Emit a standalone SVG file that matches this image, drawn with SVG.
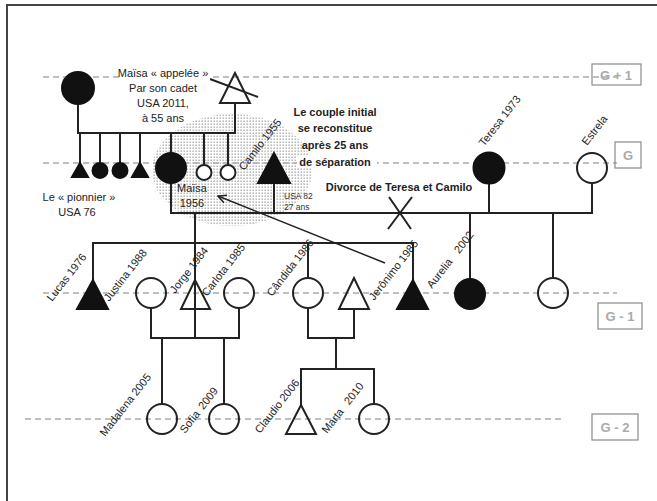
<svg xmlns="http://www.w3.org/2000/svg" width="657" height="501" viewBox="0 0 657 501">
  <style>
    .ln { stroke: #222; stroke-width: 2; fill: none; }
    .blk { fill: #111; stroke: #111; stroke-width: 2; }
    .opn { fill: none; stroke: #222; stroke-width: 2; }
    .opw { fill: #fff; stroke: #222; stroke-width: 2; }
    .gen { stroke: #aaa; stroke-width: 1.5; stroke-dasharray: 6 4; fill: none; }
    .gbox { fill: none; stroke: #8a8a8a; stroke-width: 1.2; }
    .gtxt { font-family: "Liberation Sans", Arial, sans-serif; font-size: 13px; font-weight: bold; fill: #aaa; text-anchor: middle; }
    .txt { font-family: "Liberation Sans", Arial, sans-serif; font-size: 11px; fill: #222; }
    .mid { text-anchor: middle; }
    .bold { font-weight: bold; }
    .small { font-size: 8.5px; fill: #333; }
  </style>
  <defs>
    <pattern id="dots" width="3" height="3" patternUnits="userSpaceOnUse">
      <rect x="0.5" y="0.5" width="1.4" height="1.4" fill="#a8a8a8"/>
    </pattern>
    <marker id="openArrow" viewBox="0 0 10 10" refX="9" refY="5" markerWidth="10" markerHeight="10" markerUnits="userSpaceOnUse" orient="auto">
      <path d="M1,1 L9,5 L1,9" fill="none" stroke="#222" stroke-width="1.5"/>
    </marker>
  </defs>

  <rect width="657" height="501" fill="#fff"/>
  <!-- frame -->
  <path d="M7,501 V5 H657" fill="none" stroke="#444" stroke-width="2"/>

  <!-- shaded zone around the reunited couple -->
  <ellipse cx="232" cy="170" rx="80" ry="56" fill="url(#dots)"/>

  <!-- generation guides -->
  <g id="generations">
    <line class="gen" x1="43" y1="77" x2="617" y2="77"/>
    <line class="gen" x1="43" y1="163" x2="617" y2="163"/>
    <line class="gen" x1="43" y1="293" x2="617" y2="293"/>
    <line class="gen" x1="25" y1="419" x2="565" y2="419"/>
    <rect class="gbox" x="592" y="64" width="49" height="21"/>
    <text class="gtxt" x="616" y="80">G + 1</text>
    <rect class="gbox" x="615" y="142" width="26" height="26"/>
    <text class="gtxt" x="628" y="160">G</text>
    <rect class="gbox" x="598" y="303" width="44" height="26"/>
    <text class="gtxt" x="620" y="321">G - 1</text>
    <rect class="gbox" x="592" y="414" width="46" height="26"/>
    <text class="gtxt" x="615" y="432">G - 2</text>
  </g>

  <!-- kinship lines -->
  <g id="connectors">
    <path class="ln" d="M78,104 V133 H235 V103"/>
    <path class="ln" d="M80,133 V163 M100,133 V163 M120,133 V163 M140,133 V163 M171,133 V153 M204,133 V165 M228,133 V165"/>
    <path class="ln" d="M171,183 V213 H592 V183"/>
    <path class="ln" d="M274,183 V213 M489,184 V213"/>
    <path class="ln" d="M195,213 V338"/>
    <path class="ln" d="M93,280 V243 H413 V280"/>
    <path class="ln" d="M308,243 V278 M470,213 V279 M553,213 V278"/>
    <path class="ln" d="M151,308 V338 H239 V308"/>
    <path class="ln" d="M162,338 V404 M224,338 V404"/>
    <path class="ln" d="M308,308 V338 H354 V309"/>
    <path class="ln" d="M336,338 V369 M301,405 V369 H374 V404"/>
    <!-- divorce mark -->
    <path class="ln" d="M389,197 L411,229 M412,197 L388,229"/>
    <!-- deceased mark -->
    <path class="ln" d="M210,79 L258,97"/>
    <!-- arrow pointing back to Maïsa -->
    <line x1="385" y1="263" x2="218" y2="196" stroke="#222" stroke-width="1.5" marker-end="url(#openArrow)"/>
  </g>

  <!-- generation G+1 -->
  <g id="grandmother"><circle class="blk" cx="78" cy="88" r="16"/></g>
  <g id="grandfather"><polygon class="opn" points="235,73 220,103 250,103"/></g>

  <!-- generation G -->
  <g id="pioneer"><polygon class="blk" points="80,163 72,177 88,177"/></g>
  <g id="sister1"><circle class="blk" cx="100" cy="170.5" r="7.5"/></g>
  <g id="sister2"><circle class="blk" cx="120" cy="170.5" r="7.5"/></g>
  <g id="brother"><polygon class="blk" points="140,163 132,177 148,177"/></g>
  <g id="maisa">
    <circle class="blk" cx="171" cy="168" r="15"/>
    <text class="txt mid" x="192" y="192" fill="#333">Maïsa</text>
    <text class="txt mid" x="192" y="207" fill="#333">1956</text>
  </g>
  <g id="sister3"><circle class="opw" cx="204" cy="172.5" r="7.5"/></g>
  <g id="sister4"><circle class="opw" cx="228" cy="172.5" r="7.5"/></g>
  <g id="camilo">
    <polygon class="blk" points="274,153 258,183 290,183"/>
    <text class="txt" transform="translate(244,171) rotate(-52)">Camilo 1955</text>
    <text class="txt small" x="284" y="199">USA 82</text>
    <text class="txt small" x="284" y="210">27 ans</text>
  </g>
  <g id="teresa">
    <circle class="blk" cx="489" cy="168" r="15.5"/>
    <text class="txt" transform="translate(484,147) rotate(-52)">Teresa 1973</text>
  </g>
  <g id="estrela">
    <circle class="opn" cx="592" cy="168" r="15"/>
    <text class="txt" transform="translate(587,146) rotate(-52)">Estrela</text>
  </g>

  <!-- generation G-1 -->
  <g id="lucas">
    <polygon class="blk" points="93,280 77,309 108,309"/>
    <text class="txt" transform="translate(52,302) rotate(-52)">Lucas 1976</text>
  </g>
  <g id="justina">
    <circle class="opn" cx="151" cy="293" r="15"/>
    <text class="txt" transform="translate(109,302) rotate(-52)">Justina 1988</text>
  </g>
  <g id="jorge">
    <polygon class="opn" points="195,280 181,309 210,309"/>
    <text class="txt" transform="translate(175,294) rotate(-52)">Jorge 1984</text>
  </g>
  <g id="carlota">
    <circle class="opn" cx="239" cy="293" r="15"/>
    <text class="txt" transform="translate(207,297) rotate(-52)">Carlota 1985</text>
  </g>
  <g id="candida">
    <circle class="opn" cx="308" cy="293" r="15"/>
    <text class="txt" transform="translate(272,297) rotate(-52)">Cândida 1986</text>
  </g>
  <g id="partner"><polygon class="opn" points="354,278 339,309 369,309"/></g>
  <g id="jeronimo">
    <polygon class="blk" points="413,280 397,309 428,309"/>
    <text class="txt" transform="translate(374,301) rotate(-52)">Jerônimo 1985</text>
  </g>
  <g id="aurelia">
    <circle class="blk" cx="470" cy="294" r="15"/>
    <text class="txt" transform="translate(432,289) rotate(-52)">Aurelia<tspan dx="10">2002</tspan></text>
  </g>
  <g id="daughter"><circle class="opn" cx="553" cy="293" r="15"/></g>

  <!-- generation G-2 -->
  <g id="madalena">
    <circle class="opn" cx="162" cy="419" r="15"/>
    <text class="txt" transform="translate(105,437) rotate(-52)">Madalena 2005</text>
  </g>
  <g id="sofia">
    <circle class="opn" cx="224" cy="419" r="15"/>
    <text class="txt" transform="translate(185,434) rotate(-52)">Sofia<tspan dx="5">2009</tspan></text>
  </g>
  <g id="claudio">
    <polygon class="opn" points="301,405 286,434 316,434"/>
    <text class="txt" transform="translate(260,434) rotate(-52)">Claudio 2006</text>
  </g>
  <g id="marta">
    <circle class="opn" cx="374" cy="419" r="15"/>
    <text class="txt" transform="translate(327,434) rotate(-52)">Marta<tspan dx="8">2010</tspan></text>
  </g>

  <!-- annotations -->
  <g id="note-called">
    <rect x="119" y="68" width="91" height="13" fill="#fff"/>
    <text class="txt mid" x="163" y="77">Maïsa « appelée »</text>
    <text class="txt mid" x="163" y="92">Par son cadet</text>
    <text class="txt mid" x="163" y="107">USA 2011,</text>
    <text class="txt mid" x="163" y="122">à 55 ans</text>
  </g>
  <g id="note-pioneer">
    <text class="txt mid" x="79" y="201">Le « pionnier »</text>
    <text class="txt mid" x="77" y="216">USA 76</text>
  </g>
  <g id="note-reunion">
    <rect x="297" y="156" width="80" height="12" fill="#fff"/>
    <text class="txt mid bold" x="335" y="115.5" font-size="12.5">Le couple initial</text>
    <text class="txt mid bold" x="335" y="132" font-size="12.5">se reconstitue</text>
    <text class="txt mid bold" x="335" y="148.5" font-size="12.5">après 25 ans</text>
    <text class="txt mid bold" x="335" y="165.5" font-size="12.5">de séparation</text>
  </g>
  <g id="note-divorce">
    <text class="txt mid bold" x="399" y="191" font-size="10.5">Divorce de Teresa et Camilo</text>
  </g>
</svg>
